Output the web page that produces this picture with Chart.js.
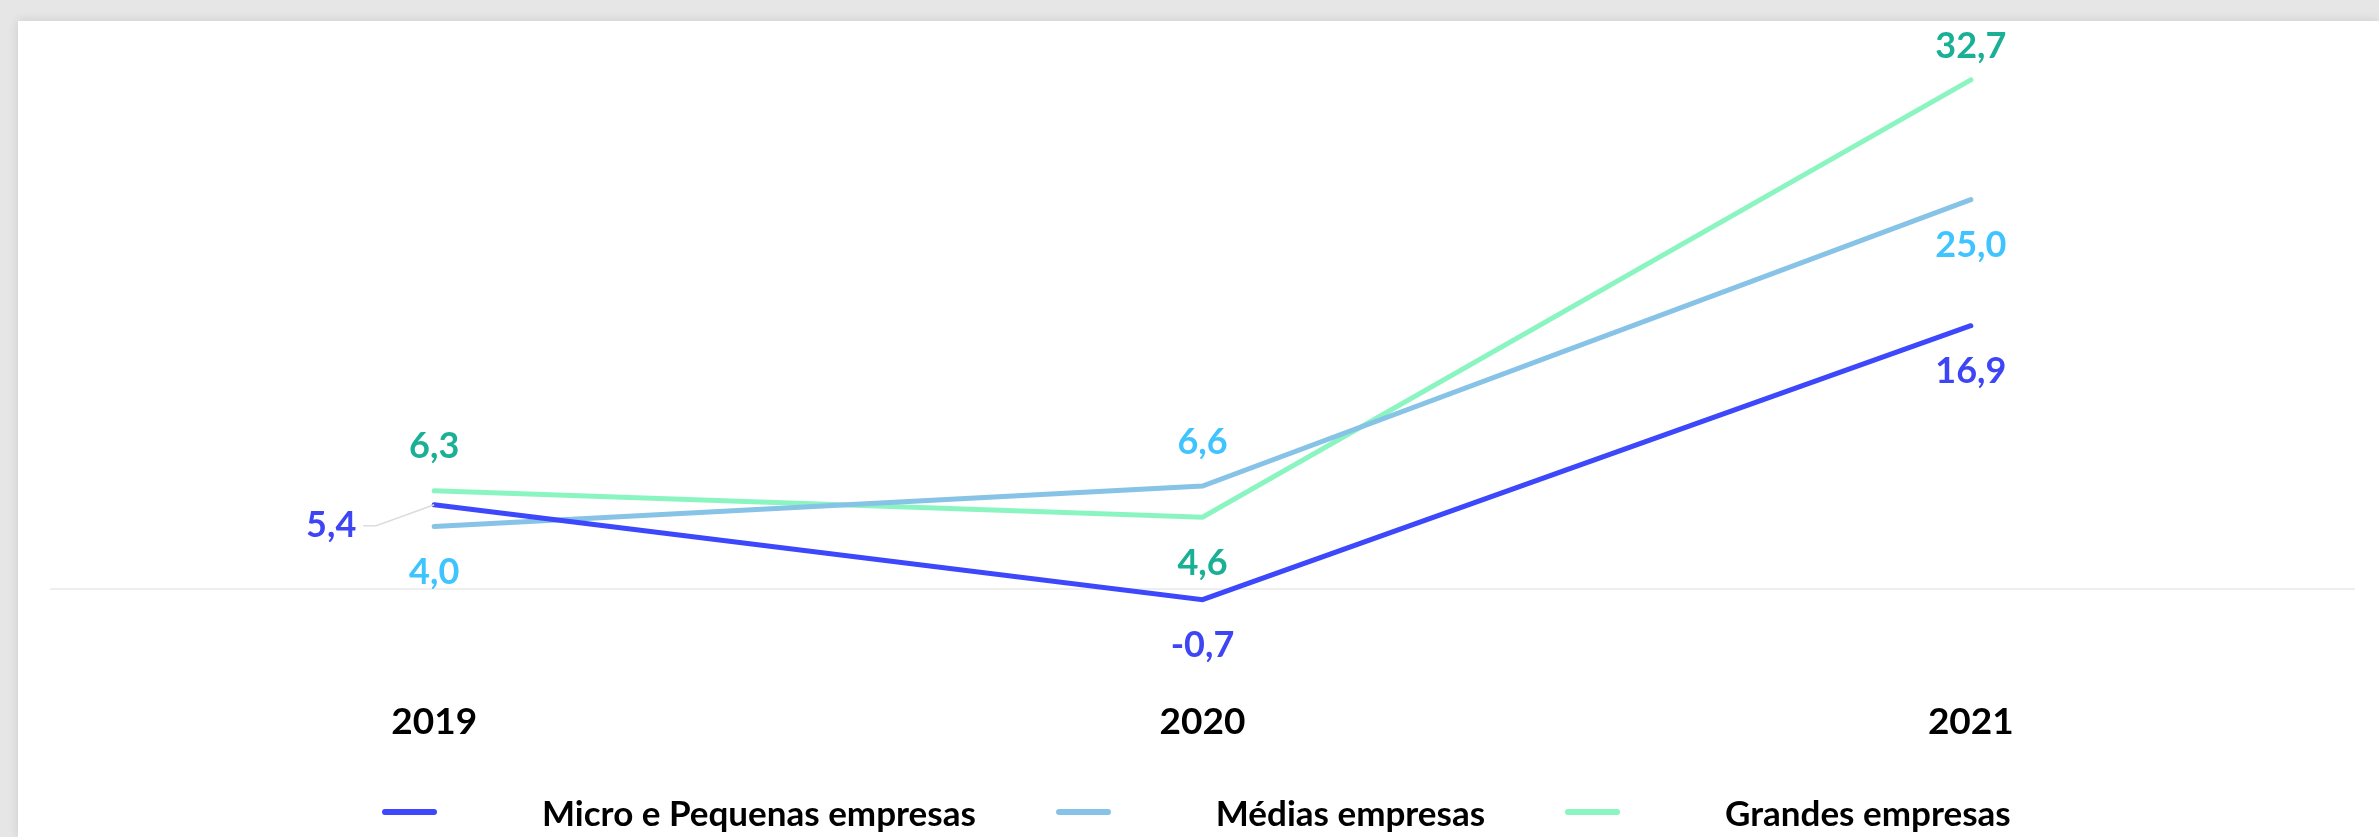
<!DOCTYPE html>
<html lang="pt">

<head>
    <meta charset="UTF-8" />
    <title>Variação por dimensão de empresa</title>
    <script src="https://cdn.jsdelivr.net/npm/chart.js"></script>
    <style>
        html, body {
            margin: 0;
            padding: 0;
            width: 2379px;
            height: 837px;
            overflow: hidden;
            background: #e6e6e6;
            font-family: Lato, sans-serif;
        }

        #painel {
            position: absolute;
            left: 18px;
            top: 21px;
            right: 0;
            bottom: 0;
            background: #ffffff;
            box-shadow: 0 0 10px rgba(0, 0, 0, 0.12);
        }

        #caixa {
            position: absolute;
            left: 0;
            top: 0;
            width: 2379px;
            height: 837px;
        }

        #legenda {
            position: absolute;
            left: 382px;
            top: 790px;
            height: 44px;
            display: flex;
            align-items: center;
            font-weight: bold;
            font-size: 35px;
            color: #000;
        }

        .marca {
            width: 55px;
            height: 6px;
            border-radius: 3px;
            margin-right: 105px;
        }

        .item {
            display: flex;
            align-items: center;
            margin-right: 80px;
            white-space: nowrap;
        }
    </style>
</head>

<body>
    <div id="painel"></div>
    <div id="caixa"><canvas id="grafico"></canvas></div>
    <div id="legenda"></div>

    <script>
        const anos = ['2019', '2020', '2021'];
        const series = ['Micro e Pequenas empresas', 'Médias empresas', 'Grandes empresas'];
        const microPequenas = [5.4, -0.7, 16.9];
        const medias = [4.0, 6.6, 25.0];
        const grandes = [6.3, 4.6, 32.7];

        const coresLinha = ['#3d47fb', '#87c3e6', '#8af5c0'];
        const coresRotulo = ['#3d45f5', '#40c4ff', '#1ab095'];
        // onde fica cada rótulo em relação ao ponto
        const posRotulos = [
            ['left', 'below', 'below'],
            ['below', 'above', 'below'],
            ['above', 'below', 'above']
        ];

        const fmt = v => v.toFixed(1).replace('.', ',');

        const rotulosPlugin = {
            id: 'rotulos',
            afterDatasetsDraw(chart) {
                const ctx = chart.ctx;
                const area = chart.chartArea;
                ctx.save();
                ctx.font = 'bold 36px Lato';
                ctx.textAlign = 'center';
                ctx.textBaseline = 'middle';
                chart.data.datasets.forEach((ds, i) => {
                    const meta = chart.getDatasetMeta(i);
                    meta.data.forEach((pt, j) => {
                        const pos = posRotulos[i][j];
                        const txt = fmt(ds.data[j]);
                        let x = pt.x, y = pt.y;
                        if (pos === 'above') {
                            y = Math.max(pt.y - 44, area.top + 2);
                        } else if (pos === 'below') {
                            y = pt.y + 46;
                        } else if (pos === 'left') {
                            x = pt.x - 103;
                            y = pt.y + 21;
                            // linha de ligação
                            const w = ctx.measureText(txt).width;
                            ctx.strokeStyle = '#dcdcdc';
                            ctx.lineWidth = 1.5;
                            ctx.beginPath();
                            ctx.moveTo(x + w / 2 + 7, y);
                            ctx.lineTo(x + w / 2 + 20, y);
                            ctx.lineTo(pt.x, pt.y);
                            ctx.stroke();
                        }
                        ctx.fillStyle = coresRotulo[i];
                        ctx.fillText(txt, x, y);
                    });
                });
                ctx.restore();
            }
        };

        const chart = new Chart(document.getElementById('grafico'), {
            type: 'line',
            data: {
                labels: anos,
                datasets: [microPequenas, medias, grandes].map((d, i) => ({
                    label: series[i],
                    data: d,
                    borderColor: coresLinha[i],
                    backgroundColor: coresLinha[i],
                    borderWidth: 5,
                    borderCapStyle: 'round',
                    pointRadius: 0,
                    tension: 0,
                    fill: false
                }))
            },
            options: {
                responsive: true,
                maintainAspectRatio: false,
                animation: false,
                layout: {
                    padding: { left: 50, right: 24, top: 44, bottom: 60 }
                },
                plugins: {
                    legend: { display: false },
                    tooltip: { enabled: false }
                },
                scales: {
                    x: {
                        offset: true,
                        grid: { display: false, drawTicks: false },
                        border: { display: false },
                        ticks: {
                            padding: 33,
                            color: '#000',
                            font: { family: 'Lato', weight: 'bold', size: 37 }
                        }
                    },
                    y: {
                        min: -5,
                        max: 35,
                        ticks: { display: false, stepSize: 5 },
                        border: { display: false },
                        grid: {
                            drawTicks: false,
                            lineWidth: 2,
                            color: c => c.tick && c.tick.value === 0 ? '#eeeeee' : 'rgba(0,0,0,0)'
                        }
                    }
                }
            },
            plugins: [rotulosPlugin]
        });

        // legenda em HTML
        const legenda = document.getElementById('legenda');
        chart.data.datasets.forEach(ds => {
            const item = document.createElement('div');
            item.className = 'item';
            const marca = document.createElement('div');
            marca.className = 'marca';
            marca.style.background = ds.borderColor;
            const texto = document.createElement('span');
            texto.textContent = ds.label;
            item.appendChild(marca);
            item.appendChild(texto);
            legenda.appendChild(item);
        });
    </script>
</body>

</html>
